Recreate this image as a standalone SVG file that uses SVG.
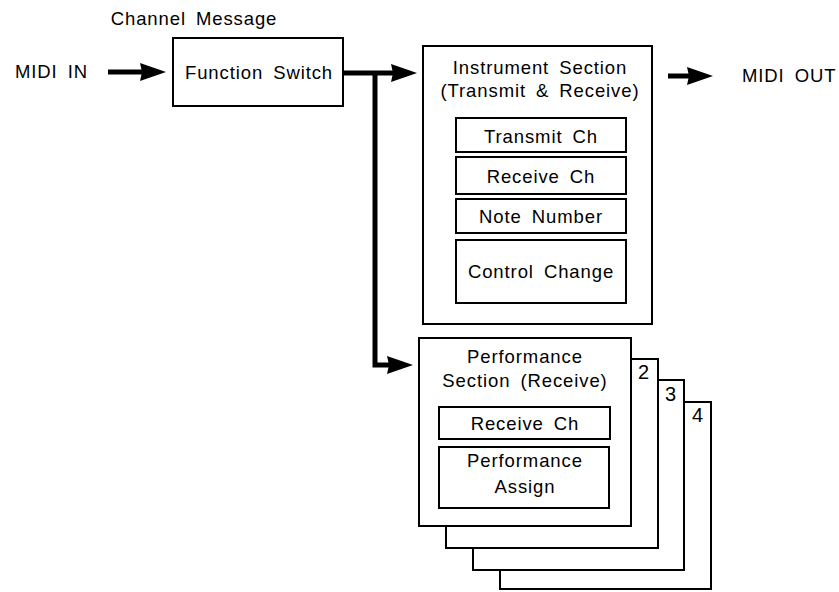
<svg xmlns="http://www.w3.org/2000/svg" width="839" height="592" viewBox="0 0 839 592">
<style>
  .box { fill: #fff; stroke: #000; stroke-width: 2; }
  .t { font-family: "Liberation Sans", Arial, sans-serif; font-size: 18.5px; letter-spacing: 0.9px; word-spacing: 4px; fill: #000; text-anchor: middle; }
  .tl { font-family: "Liberation Sans", Arial, sans-serif; font-size: 18.5px; letter-spacing: 0.9px; word-spacing: 4px; fill: #000; }
  .num { font-family: "Liberation Sans", Arial, sans-serif; font-size: 20px; fill: #000; }
  .shaft { fill: none; stroke: #000; stroke-width: 5; stroke-linejoin: miter; }
</style>
<defs>
  <marker id="ah" markerUnits="userSpaceOnUse" markerWidth="28" markerHeight="22" refX="4" refY="11" orient="auto">
    <path d="M0,2 L26,11 L0,20 L2,11 Z" fill="#000"/>
  </marker>
</defs>
<rect width="839" height="592" fill="#fff"/>

<g id="connectors">
  <path class="shaft" d="M108,72 H144" marker-end="url(#ah)"/>
  <path class="shaft" d="M343,73 H395" marker-end="url(#ah)"/>
  <path class="shaft" d="M375,73 V365 H391" marker-end="url(#ah)"/>
  <path class="shaft" d="M668,76 H691" marker-end="url(#ah)"/>
</g>

<g id="label-channel-message">
  <text class="t" x="194" y="25">Channel Message</text>
</g>
<g id="midi-in">
  <text class="tl" x="15" y="78">MIDI IN</text>
</g>
<g id="midi-out">
  <text class="tl" x="742" y="82">MIDI OUT</text>
</g>

<g id="function-switch">
  <rect class="box" x="173" y="38" width="170" height="68"/>
  <text class="t" x="259" y="79">Function Switch</text>
</g>

<g id="instrument-section">
  <rect class="box" x="423" y="46" width="229" height="278"/>
  <text class="t" x="540" y="74">Instrument Section</text>
  <text class="t" x="540" y="97">(Transmit &amp; Receive)</text>
  <g id="transmit-ch">
    <rect class="box" x="456" y="118" width="170" height="34"/>
    <text class="t" x="541" y="143">Transmit Ch</text>
  </g>
  <g id="inst-receive-ch">
    <rect class="box" x="456" y="157" width="170" height="37"/>
    <text class="t" x="541" y="183">Receive Ch</text>
  </g>
  <g id="note-number">
    <rect class="box" x="456" y="199" width="170" height="34"/>
    <text class="t" x="541" y="223">Note Number</text>
  </g>
  <g id="control-change">
    <rect class="box" x="456" y="240" width="170" height="63"/>
    <text class="t" x="541" y="278">Control Change</text>
  </g>
</g>

<g id="performance-4">
  <rect class="box" x="500" y="402" width="211" height="187"/>
  <text class="num" x="692" y="422">4</text>
</g>
<g id="performance-3">
  <rect class="box" x="473" y="380" width="211" height="190"/>
  <text class="num" x="665" y="401">3</text>
</g>
<g id="performance-2">
  <rect class="box" x="446" y="359" width="212" height="189"/>
  <text class="num" x="638" y="379">2</text>
</g>
<g id="performance-section">
  <rect class="box" x="419" y="338" width="212" height="188"/>
  <text class="t" x="525" y="363">Performance</text>
  <text class="t" x="525" y="387">Section (Receive)</text>
  <g id="perf-receive-ch">
    <rect class="box" x="439" y="407" width="171" height="32"/>
    <text class="t" x="525" y="430">Receive Ch</text>
  </g>
  <g id="performance-assign">
    <rect class="box" x="439" y="447" width="170" height="61"/>
    <text class="t" x="525" y="467">Performance</text>
    <text class="t" x="525" y="493">Assign</text>
  </g>
</g>
</svg>
